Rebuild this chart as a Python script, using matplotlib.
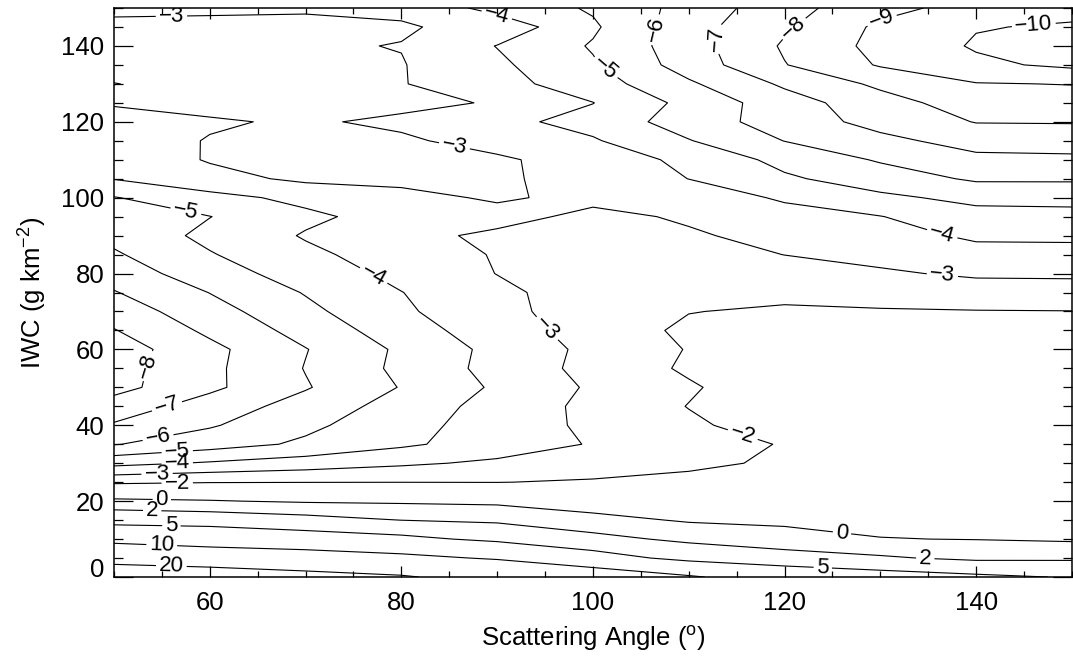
import matplotlib
matplotlib.use("Agg")
import matplotlib.pyplot as plt
import numpy as np

plt.rcParams["font.family"] = ["Liberation Sans", "DejaVu Sans"]
plt.rcParams["mathtext.fontset"] = "custom"
plt.rcParams["mathtext.rm"] = "Liberation Sans"
plt.rcParams["mathtext.it"] = "Liberation Sans:italic"
plt.rcParams["contour.negative_linestyle"] = "solid"

# ---------- data ----------------------------------------------------------
# grid: scattering angle (deg) across, IWC (g km-2) up
angle = [50, 60, 70, 80, 90, 100, 110, 120, 130, 140, 150]
iwc = [0, 5, 10, 15, 20, 25, 30, 35, 40, 45, 50, 55, 60, 65, 70, 75,
       80, 85, 90, 95, 100, 105, 110, 115, 120, 125, 130, 135, 140, 145, 150]
levels = [-10, -9, -8, -7, -6, -5, -4, -3, -2, 0, 2, 5, 10, 20]

# one row per IWC value, one column per angle
field = [
    [26.0, 27.8, 23.5, 20.9, 16.0, 13.5, 10.5, 7.5, 6.5, 5.6, 4.8],
    [17.0, 12.8, 12.5, 11.2, 9.5, 6.5, 4.0, 3.2, 2.3, 1.5, 1.6],
    [8.0, 8.0, 6.8, 5.8, 4.3, 2.7, 1.5, 0.5, 0.05, -0.05, -0.25],
    [4.0, 3.5, 2.8, 1.98, 1.6, 0.6, -0.2, -0.25, -0.45, -0.35, -0.45],
    [0.3, 0.1, -0.2, -0.28, -0.4, -1.0, -0.85, -0.75, -0.7, -0.55, -0.6],
    [-2.2, -2.05, -2.02, -2.01, -2.02, -1.9, -1.6, -1.25, -0.9, -0.7, -0.7],
    [-4.3, -3.89, -3.53, -3.16, -2.83, -2.5, -2.3, -1.78, -1.05, -0.85, -0.8],
    [-6.05, -5.44, -4.83, -4.17, -3.53, -2.93, -2.57, -1.92, -1.15, -0.95, -0.9],
    [-6.9, -6.1, -5.22, -4.36, -3.55, -2.8, -2.17, -1.52, -1.2, -1.0, -0.95],
    [-7.55, -6.56, -5.59, -4.61, -3.62, -2.75, -1.97, -1.4, -1.25, -1.05, -1.0],
    [-8.33, -7.2, -6.08, -4.95, -3.85, -2.86, -2.12, -1.32, -1.25, -1.1, -1.05],
    [-8.4, -7.22, -5.96, -4.78, -3.66, -2.69, -1.85, -1.3, -1.3, -1.15, -1.1],
    [-8.51, -7.26, -6.04, -4.83, -3.71, -2.75, -1.95, -1.3, -1.35, -1.25, -1.2],
    [-8.05, -6.8, -5.64, -4.47, -3.46, -2.6, -1.8, -1.4, -1.5, -1.45, -1.45],
    [-7.55, -6.4, -5.25, -4.17, -3.24, -2.58, -2.03, -1.85, -1.92, -1.96, -1.98],
    [-7.06, -5.98, -4.94, -4.02, -3.24, -2.47, -2.22, -2.27, -2.4, -2.55, -2.58],
    [-6.55, -5.45, -4.55, -3.74, -2.98, -2.6, -2.43, -2.64, -2.88, -3.14, -3.16],
    [-6.12, -5.07, -4.21, -3.54, -2.93, -2.7, -2.65, -3.01, -3.27, -3.65, -3.72],
    [-5.73, -4.75, -3.92, -3.34, -2.77, -2.7, -2.86, -3.36, -3.62, -4.17, -4.16],
    [-5.38, -5.02, -4.2, -3.6, -3.4, -2.7, -3.15, -3.72, -3.97, -4.65, -4.69],
    [-5.05, -4.3, -3.75, -3.34, -2.85, -3.3, -3.58, -4.1, -4.8, -5.26, -5.3],
    [-3.96, -3.34, -2.8, -2.7, -2.85, -3.38, -4.01, -4.85, -5.5, -6.14, -6.14],
    [-3.71, -2.92, -2.75, -2.65, -2.85, -3.45, -4.23, -5.3, -6.1, -6.75, -6.8],
    [-3.46, -2.95, -2.8, -2.85, -3.37, -3.9, -4.95, -6.02, -6.74, -7.39, -7.45],
    [-3.21, -3.1, -2.88, -3.19, -3.72, -4.35, -5.48, -6.45, -7.34, -8.04, -8.06],
    [-2.95, -2.7, -2.6, -2.75, -3.08, -3.98, -5.29, -6.55, -7.6, -8.5, -8.55],
    [-1.95, -2.7, -2.75, -2.95, -3.65, -4.54, -5.85, -7.16, -8.2, -8.95, -9.03],
    [-2.8, -2.7, -2.75, -2.95, -3.81, -4.89, -6.45, -7.96, -9.09, -9.8, -10.2],
    [-2.85, -2.75, -2.9, -3.03, -4.03, -5.09, -6.57, -8.12, -9.3, -10.1, -10.3],
    [-2.9, -2.85, -2.85, -2.9, -3.35, -4.85, -6.6, -7.86, -9.2, -9.95, -10.1],
    [-3.09, -3.1, -3.07, -3.21, -4.34, -5.12, -6.36, -7.63, -8.67, -9.4, -9.72],
]

# where the inline labels sit (data coords), per level
label_spots = {
    20: [(56, 3.7)],
    10: [(55, 9.2)],
    5: [(56, 14.2), (124, 2.9)],
    2: [(54, 18.2), (134.7, 5.3)],
    0: [(55, 21), (126, 11.6)],
    -2: [(56.6, 25.4), (115.7, 38)],
    -3: [(54.5, 27.2), (56, 147.8), (85.6, 114.4), (94.8, 64.6), (136.5, 80.2)],
    -4: [(56.6, 30.2), (90, 148.5), (77, 79), (136.5, 90.8)],
    -5: [(56.6, 33.3), (101.5, 135), (57.6, 97.5)],
    -6: [(54.6, 36.8), (106.7, 144.2)],
    -7: [(55.5, 45.3), (112.5, 142)],
    -8: [(53.2, 55.9), (120.3, 146.3)],
    -9: [(130, 148.2)],
    -10: [(146, 146.3)],
}


def fmt(v):
    return f"{v:.0f}".replace("-", "\u2212")


def snap(segs, p, trans):
    """Closest point to p on the given contour segments (display space)."""
    tp = trans.transform(p)
    best, best_d = None, np.inf
    for seg in segs:
        if len(seg) < 2:
            continue
        d = trans.transform(seg)
        a, b = d[:-1], d[1:]
        ab = b - a
        t = np.clip(((tp - a) * ab).sum(1) / np.maximum((ab ** 2).sum(1), 1e-12), 0, 1)
        q = a + ab * t[:, None]
        dist = np.hypot(*(q - tp).T)
        i = dist.argmin()
        if dist[i] < best_d:
            best_d = dist[i]
            best = trans.inverted().transform(q[i])
    return tuple(best)


fig = plt.figure(figsize=(10.73, 6.62), dpi=100)
ax = fig.add_axes([0.1062, 0.1284, 0.8928, 0.8595])

cs = ax.contour(angle, iwc, np.array(field), levels=levels,
                colors="k", linewidths=0.8, linestyles="solid")
ax.set_xlim(50, 150)
ax.set_ylim(0, 150)

spots = []
for lev, pts in label_spots.items():
    segs = cs.allsegs[levels.index(lev)]
    for p in pts:
        spots.append(snap(segs, p, ax.transData))
ax.clabel(cs, manual=spots, fmt=fmt, fontsize=16, inline=True,
          inline_spacing=3)

ax.set_xticks([60, 80, 100, 120, 140])
ax.set_xticks(np.arange(50, 151, 5), minor=True)
ax.set_yticks([0, 20, 40, 60, 80, 100, 120, 140])
ax.set_yticks(np.arange(0, 151, 5), minor=True)

ax.tick_params(which="both", direction="in", top=True, right=True,
               width=0.9, colors="k")
ax.tick_params(axis="x", which="major", length=7.9, pad=10, labelsize=18.5)
ax.tick_params(axis="x", which="minor", length=4)
ax.tick_params(axis="y", which="major", length=13.7, pad=7, labelsize=18.5)
ax.tick_params(axis="y", which="minor", length=6.8)
for sp in ax.spines.values():
    sp.set_linewidth(1.1)

# bottom "0" sits on the axis line rather than centred on it
ax.yaxis.get_major_ticks()[0].label1.set_verticalalignment("baseline")

ax.set_xlabel(r"Scattering Angle ($^{\mathrm{o}}$)", fontsize=18.5)
ax.set_ylabel(r"IWC (g km$^{\mathrm{-2}}$)", fontsize=18.5)
ax.xaxis.set_label_coords(0.5, -0.082)
ax.yaxis.set_label_coords(-0.068, 0.5)

fig.savefig("out.png", dpi=100)
